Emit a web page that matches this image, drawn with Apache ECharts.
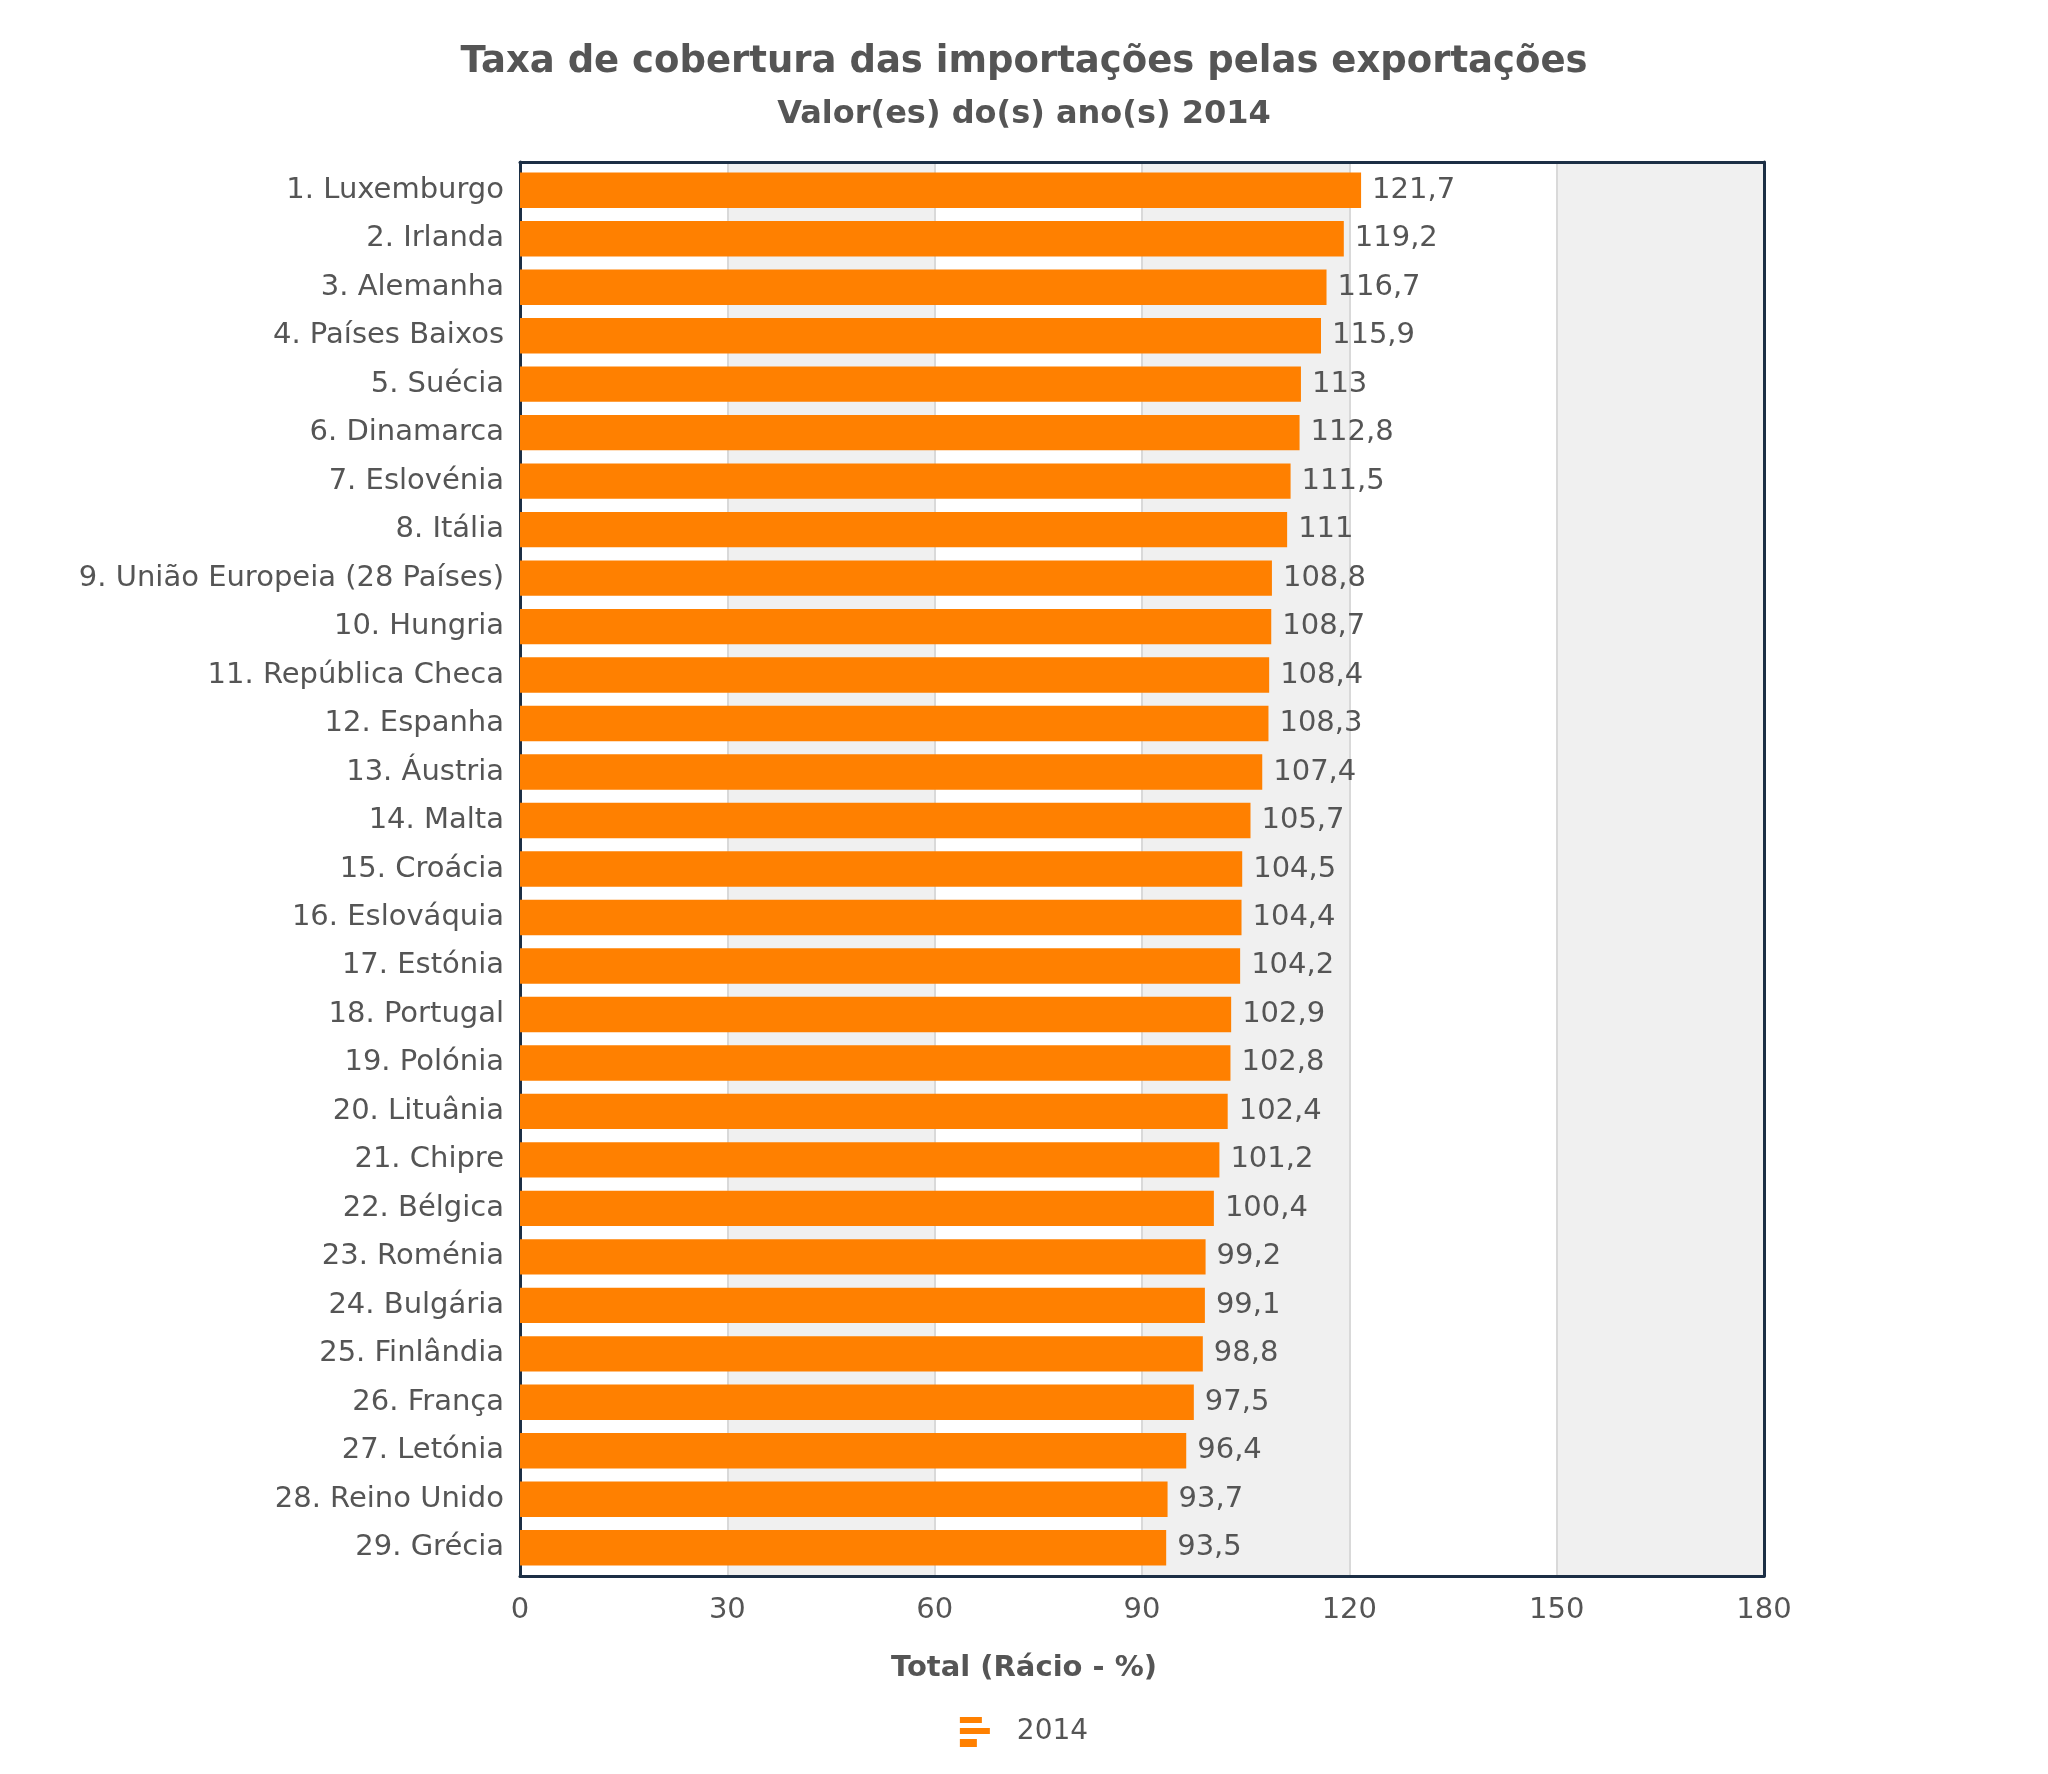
<!DOCTYPE html>
<html>
<head>
<meta charset="utf-8">
<script src="https://cdn.jsdelivr.net/npm/echarts@6/dist/echarts.min.js"></script>
<style>
  html, body { margin: 0; padding: 0; background: #fff; }
  #chart { width: 2048px; height: 1774px; }
</style>
</head>
<body>
<div id="chart"></div>
<script>
const categories = [
  "1. Luxemburgo", "2. Irlanda", "3. Alemanha", "4. Países Baixos", "5. Suécia",
  "6. Dinamarca", "7. Eslovénia", "8. Itália", "9. União Europeia (28 Países)",
  "10. Hungria", "11. República Checa", "12. Espanha", "13. Áustria", "14. Malta",
  "15. Croácia", "16. Eslováquia", "17. Estónia", "18. Portugal", "19. Polónia",
  "20. Lituânia", "21. Chipre", "22. Bélgica", "23. Roménia", "24. Bulgária",
  "25. Finlândia", "26. França", "27. Letónia", "28. Reino Unido", "29. Grécia"
];
const values2014 = [
  121.7, 119.2, 116.7, 115.9, 113, 112.8, 111.5, 111, 108.8, 108.7,
  108.4, 108.3, 107.4, 105.7, 104.5, 104.4, 104.2, 102.9, 102.8, 102.4,
  101.2, 100.4, 99.2, 99.1, 98.8, 97.5, 96.4, 93.7, 93.5
];
const xTicks = [0, 30, 60, 90, 120, 150, 180];

const font = "DejaVu Sans";
const textColor = "#555";
const frame = { show: true, onZero: false, lineStyle: { color: "#1c2f45", width: 3 } };
const hidden = { show: false };

const chart = echarts.init(document.getElementById("chart"));
chart.setOption({
  animation: false,
  title: [{
    text: "Taxa de cobertura das importações pelas exportações",
    left: "center",
    top: 39,
    textStyle: { fontFamily: font, fontSize: 37, fontWeight: "bold", color: textColor }
  }, {
    text: "Valor(es) do(s) ano(s) 2014",
    left: "center",
    top: 94,
    textStyle: { fontFamily: font, fontSize: 32, fontWeight: "bold", color: textColor }
  }, {
    // nome do eixo, centrado na figura
    text: "Total (Rácio - %)",
    left: "center",
    top: 1649,
    textStyle: { fontFamily: font, fontSize: 29, fontWeight: "bold", color: textColor }
  }],
  legend: {
    bottom: 22,
    left: "center",
    itemWidth: 30,
    itemHeight: 34,
    itemGap: 10,
    icon: "path://M0,0H22V6H0Z M0,11H30V17H0Z M0,22H17V30H0Z",
    textStyle: { fontFamily: font, fontSize: 28, color: textColor, padding: [0, 0, 0, 22] },
    data: ["2014"]
  },
  // grelha 0: moldura e faixas; grelha 1: barras, com pequena margem
  grid: [
    { left: 520, right: 284, top: 162, bottom: 198 },
    { left: 520, right: 284, top: 166, bottom: 202 }
  ],
  xAxis: [{
    gridIndex: 0,
    type: "value",
    min: 0,
    max: 180,
    interval: 30,
    axisLine: frame,
    axisTick: hidden,
    axisLabel: {
      margin: 20,
      fontFamily: font,
      fontSize: 29,
      color: textColor,
      formatter: v => xTicks.includes(v) ? String(v) : ""
    },
    splitLine: { show: true, lineStyle: { color: "#d9d9d9", width: 2 } },
    splitArea: { show: true, areaStyle: { color: ["#ffffff", "#f0f0f0"] } }
  }, {
    gridIndex: 0,
    type: "value",
    position: "top",
    min: 0,
    max: 180,
    interval: 30,
    axisLine: frame,
    axisTick: hidden,
    axisLabel: hidden,
    splitLine: hidden
  }, {
    gridIndex: 1,
    type: "value",
    min: 0,
    max: 180,
    interval: 30,
    axisLine: hidden,
    axisTick: hidden,
    axisLabel: hidden,
    splitLine: hidden
  }],
  yAxis: [{
    gridIndex: 0,
    type: "value",
    min: 0,
    max: 1,
    axisLine: frame,
    axisTick: hidden,
    axisLabel: hidden,
    splitLine: hidden
  }, {
    gridIndex: 0,
    type: "value",
    position: "right",
    min: 0,
    max: 1,
    axisLine: frame,
    axisTick: hidden,
    axisLabel: hidden,
    splitLine: hidden
  }, {
    gridIndex: 1,
    type: "category",
    inverse: true,
    data: categories,
    axisLine: hidden,
    axisTick: hidden,
    axisLabel: { margin: 16, padding: [5, 0, 0, 0], fontFamily: font, fontSize: 29, color: textColor }
  }],
  series: [{
    name: "2014",
    type: "bar",
    xAxisIndex: 2,
    yAxisIndex: 2,
    data: values2014,
    barCategoryGap: "27%",
    itemStyle: { color: "#ff8000" },
    label: {
      show: true,
      position: "right",
      distance: 11,
      padding: [5, 0, 0, 0],
      fontFamily: font,
      fontSize: 29,
      color: textColor,
      formatter: p => String(p.value).replace(".", ",")
    }
  }]
});
</script>
</body>
</html>
